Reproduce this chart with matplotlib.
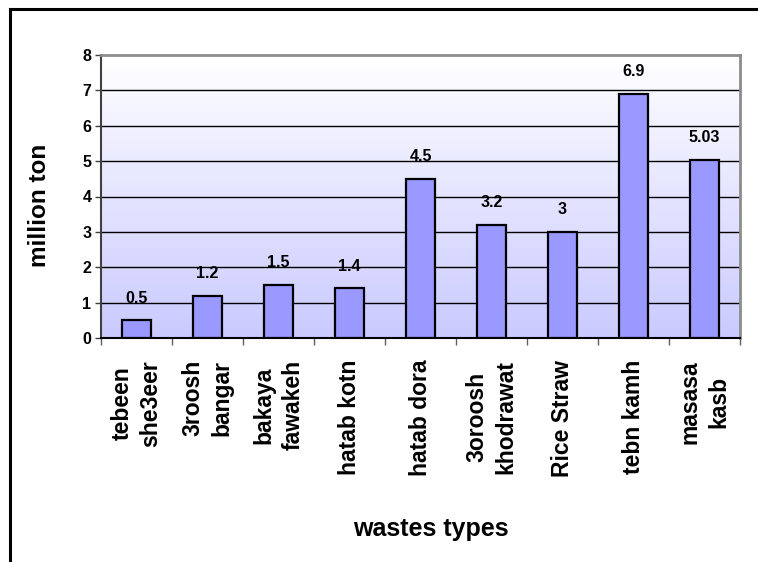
import numpy as np
import matplotlib
matplotlib.use("Agg")
import matplotlib.pyplot as plt
from matplotlib.lines import Line2D
from matplotlib.colors import LinearSegmentedColormap

categories = ["tebeen\nshe3eer", "3roosh\nbangar", "bakaya\nfawakeh", "hatab kotn",
              "hatab dora", "3oroosh\nkhodrawat", "Rice Straw", "tebn kamh", "masasa\nkasb"]
values = [0.5, 1.2, 1.5, 1.4, 4.5, 3.2, 3, 6.9, 5.03]
value_labels = ["0.5", "1.2", "1.5", "1.4", "4.5", "3.2", "3", "6.9", "5.03"]
y_ticks = [0, 1, 2, 3, 4, 5, 6, 7, 8]

plt.rcParams['font.family'] = ['Liberation Sans', 'DejaVu Sans']
plt.rcParams['font.weight'] = 'bold'

W, H = 758, 562
fig = plt.figure(figsize=(W / 100, H / 100), dpi=100)
fig.patch.set_facecolor('white')

# plot area in pixel coordinates
x0, x1, y_top, y_bot = 101, 740, 55, 338
ax = fig.add_axes([x0 / W, 1 - y_bot / H, (x1 - x0) / W, (y_bot - y_top) / H])

n = len(categories)
ax.set_xlim(0, n)
ax.set_ylim(0, 8)

# vertical gradient backdrop
grad = np.linspace(0, 1, 256).reshape(-1, 1)
cmap = LinearSegmentedColormap.from_list("bg", ["#CACAFF", "#FFFFFF"])
ax.imshow(grad, extent=[0, n, 0, 8], origin='lower', aspect='auto', cmap=cmap, zorder=0)

# horizontal gridlines
for t in y_ticks[1:-1]:
    ax.axhline(t, color='black', lw=1.0, zorder=1)

pos = np.arange(n) + 0.5
ax.bar(pos, values, width=0.41, color='#9999FF', edgecolor='black', linewidth=1.6, zorder=3)

for p, v, lab in zip(pos, values, value_labels):
    ax.annotate(lab, (p, v), xytext=(0, 16), textcoords='offset points',
                ha='center', va='center', fontsize=11.5, fontweight='bold', zorder=4)

# axes styling
ax.set_yticks(y_ticks)
ax.set_yticklabels([str(t) for t in y_ticks], fontsize=11.5, fontweight='bold')
ax.set_xticks(np.arange(n + 1))
ax.set_xticklabels([])
ax.tick_params(axis='y', direction='out', length=4, width=1.0, pad=3, color='#404040')
ax.tick_params(axis='x', direction='out', length=5, width=1.0, color='#606060')

ax.spines['left'].set_color('#404040')
ax.spines['left'].set_linewidth(1.5)
ax.spines['bottom'].set_color('black')
ax.spines['bottom'].set_linewidth(1.5)
for s in ('top', 'right'):
    ax.spines[s].set_color('#8C8C8C')
    ax.spines[s].set_linewidth(2.0)

# category labels, rotated under each bar
for p, c in zip(pos, categories):
    ax.text(p, -0.62, c, rotation=90, ha='center', va='top', multialignment='center',
            fontsize=16.5, fontweight='bold', linespacing=1.3,
            transform=ax.transData, clip_on=False)

# axis titles
fig.text(40 / W, 1 - 205 / H, "million ton", rotation=90, ha='center', va='center',
         fontsize=17.5, fontweight='bold')
fig.text(431 / W, 1 - 529 / H, "wastes types", ha='center', va='center',
         fontsize=18, fontweight='bold')

# outer chart frame (left and top edges)
fig.add_artist(Line2D([10 / W, 10 / W], [0, 1 - 9 / H], color='black', lw=2.2,
                      transform=fig.transFigure))
fig.add_artist(Line2D([10 / W, 1.0], [1 - 9 / H, 1 - 9 / H], color='black', lw=2.2,
                      transform=fig.transFigure))

fig.savefig("out.png", dpi=100)
